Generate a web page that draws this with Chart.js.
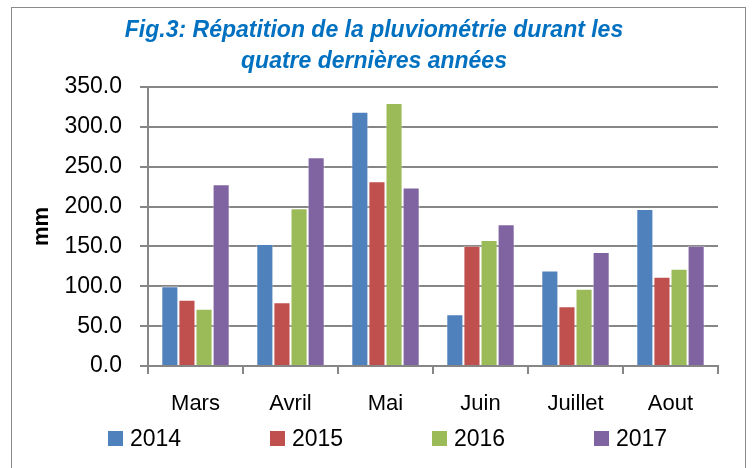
<!DOCTYPE html>
<html>
<head>
<meta charset="utf-8">
<script src="https://cdn.jsdelivr.net/npm/chart.js@4.4.0/dist/chart.umd.min.js"></script>
<style>
  body { margin: 0; background: #fff; }
  #wrap { position: relative; width: 754px; height: 468px; overflow: hidden; }
  #frame { position: absolute; left: 11px; top: 7px; width: 735px; height: 500px; border: 1px solid #8a8a8a; box-sizing: border-box; }
  #legend { position: absolute; left: 108px; top: 425px; display: flex; font-family: "Liberation Sans", Arial, sans-serif; font-size: 23px; color: #000; }
  .item { width: 162px; display: flex; align-items: center; }
  .box { width: 15px; height: 15px; margin-right: 7px; }
</style>
</head>
<body>
<div id="wrap">
  <div id="frame"></div>
  <canvas id="chart" width="754" height="468"></canvas>
  <div id="legend"></div>
</div>
<script>
const months = ['Mars', 'Avril', 'Mai', 'Juin', 'Juillet', 'Aout']
const years = ['2014', '2015', '2016', '2017']
const colors = ['#4F81BD', '#C0504D', '#9BBB59', '#8064A2']

// pluviometrie (mm)
const rain2014 = [100, 153, 319, 65, 120, 197]
const rain2015 = [83, 80, 232, 151, 75, 112]
const rain2016 = [72, 198, 330, 158, 97, 122]
const rain2017 = [228, 262, 224, 178, 143, 151]

const yTicks = [0, 50, 100, 150, 200, 250, 300, 350]

const series = [rain2014, rain2015, rain2016, rain2017]
const font = 'Liberation Sans'
const gridColor = '#868686'

const datasets = series.map((values, i) => ({
  label: years[i],
  data: values,
  backgroundColor: colors[i],
  borderColor: 'rgba(255,255,255,0.45)',
  borderWidth: 1,
  categoryPercentage: 0.72,
  barPercentage: 1.0,
}))

// le titre est centre sur tout le cadre, pas sur la zone du graphe
const shiftTitle = {
  id: 'shiftTitle',
  afterLayout: (chart) => {
    if (chart.titleBlock) {
      chart.titleBlock.left += 10
      chart.titleBlock.right += 10
    }
  },
}

const ctx = document.getElementById('chart').getContext('2d')
const chart = new Chart(ctx, {
  type: 'bar',
  data: { labels: months, datasets: datasets },
  plugins: [shiftTitle],
  options: {
    responsive: false,
    animation: false,
    layout: { padding: { left: 10, right: 36, top: 0, bottom: 50 } },
    plugins: {
      legend: { display: false },
      tooltip: { enabled: false },
      title: {
        display: true,
        text: ['Fig.3: Répatition de la pluviométrie durant les', 'quatre dernières années'],
        color: '#0070C0',
        font: { family: font, size: 23, weight: 'bold', style: 'italic', lineHeight: 1.35 },
        padding: { top: 15, bottom: 10 },
      },
    },
    scales: {
      x: {
        grid: { display: true, drawOnChartArea: false, drawTicks: true, tickLength: 8, color: gridColor, lineWidth: 2 },
        border: { color: gridColor, width: 2 },
        ticks: { color: '#000', font: { family: font, size: 22 }, padding: 17 },
        afterFit: (scale) => { scale.height = 52 },
      },
      y: {
        min: 0,
        max: 350,
        afterBuildTicks: (scale) => { scale.ticks = yTicks.map((v) => ({ value: v })) },
        grid: { color: gridColor, lineWidth: 2, tickLength: 8 },
        border: { color: gridColor, width: 2 },
        ticks: {
          color: '#000',
          font: { family: font, size: 23 },
          padding: 18,
          callback: (v) => Number(v).toFixed(1),
        },
        title: {
          display: true,
          text: 'mm',
          color: '#000',
          font: { family: font, size: 22, weight: 'bold' },
          padding: { top: 19, bottom: 0 },
        },
        afterFit: (scale) => { scale.width = 138 },
      },
    },
  },
})

// legende en HTML pour garder l'espacement large de la figure
const legendEl = document.getElementById('legend')
legendEl.innerHTML = datasets
  .map((d) => `<div class="item"><span class="box" style="background:${d.backgroundColor}"></span>${d.label}</div>`)
  .join('')
</script>
</body>
</html>
